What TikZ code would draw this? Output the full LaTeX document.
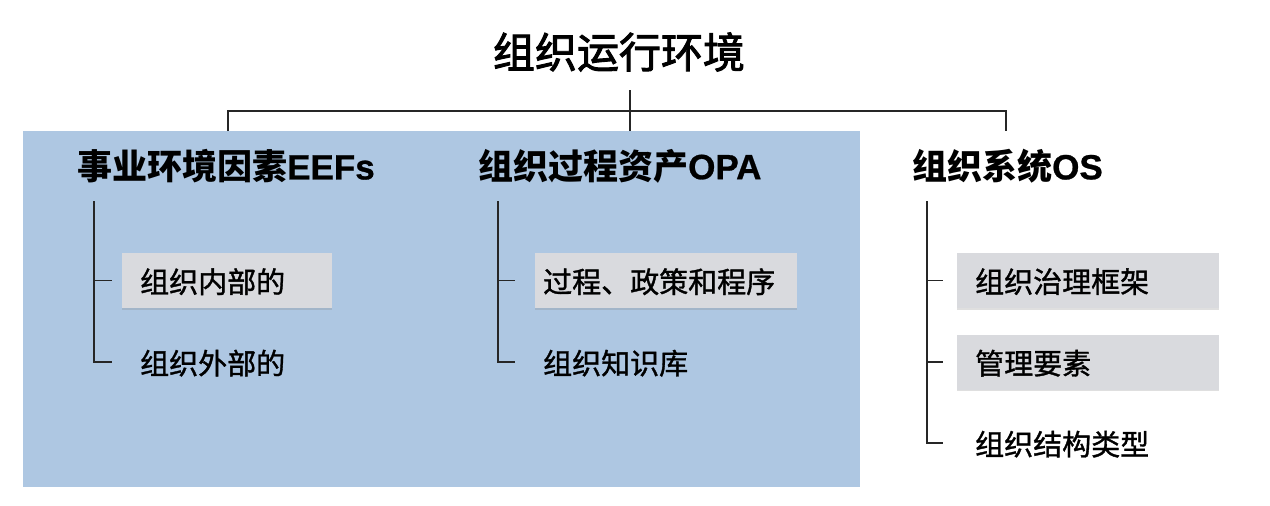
\documentclass[tikz,border=0pt]{standalone}
\usepackage{fontspec}
\setmainfont{Noto Sans CJK SC}
\newfontfamily\itemfont[FakeBold=1.2]{Noto Sans CJK SC}
\newfontfamily\titlefont[FakeBold=2.2]{Noto Sans CJK SC}
\newfontfamily\latinfont[UprightFont={* Bold},FakeBold=0.8]{Liberation Sans}
\usetikzlibrary{positioning,calc,shadows}
\definecolor{EnvClr}{RGB}{174,199,226}
\definecolor{ItemClr}{RGB}{217,218,222}
\newcommand{\TreeLines}[1]{\draw[line width=1.3pt,black!85] #1;}
\newcommand{\Abbr}[1]{{\latinfont #1}}

\begin{document}
\begin{tikzpicture}[x=1pt,y=-1pt,
  title/.style={font=\fontsize{42}{44}\titlefont,inner sep=0pt},
  hdr/.style={font=\fontsize{35}{37}\selectfont\bfseries,anchor=west,inner sep=0pt},
  item/.style={font=\fontsize{29}{31}\itemfont,anchor=west,inner ysep=0pt,
    minimum height=55pt,inner xsep=#1,text depth=0pt},
  item/.default=18pt,
  itembox/.style={item=#1,fill=ItemClr,
    drop shadow={shadow xshift=0pt,shadow yshift=-1.5pt,opacity=.25}},
  itembox/.default=18pt]
\useasboundingbox (0,0) rectangle (1270,506);
% operating environment frame
\fill[EnvClr] (23,131) rectangle (860,487);
\node[title] (env) at (619,52) {组织运行环境};
\node[hdr] (eef) at (77,166) {事业环境因素\Abbr{EEFs}};
\node[hdr] (opa) at (478,166) {组织过程资产\Abbr{OPA}};
\node[hdr] (os) at (912,166) {组织系统\Abbr{OS}};
% items
\node[itembox,text width=174pt] (eefin) at (122,280.5) {组织内部的};
\node[item,text width=174pt] (eefout) at (122,362) {组织外部的};
\node[itembox=8pt,text width=246pt] (opaproc) at (535,280.5) {过程、政策和程序};
\node[item=8pt,text width=246pt] (opakb) at (535,362) {组织知识库};
\node[itembox,text width=226pt] (osgov) at (957,280.5) {组织治理框架};
\node[itembox,text width=226pt] (osmgmt) at (957,362) {管理要素};
\node[item,text width=226pt] (osstruct) at (957,443) {组织结构类型};
% tree connectors
\coordinate (top) at (630,111);
\coordinate (dl) at (228,131);
\coordinate (dm) at (630,131);
\coordinate (dr) at (1006,131);
\TreeLines{(dm |- 0,90) -- (dm) (dl) |- (top) -| (dr)}
\coordinate (eefv) at (94,201);
\coordinate (opav) at (498,201);
\coordinate (osv) at (927,201);
\TreeLines{(eefv) |- ($(eefout.west)+(-10,0)$) (eefv |- eefin) -- ($(eefin.west)+(-10,0)$)}
\TreeLines{(opav) |- ($(opakb.west)+(-20,0)$) (opav |- opaproc) -- ($(opaproc.west)+(-20,0)$)}
\TreeLines{(osv) |- ($(osstruct.west)+(-14,0)$) (osv |- osgov) -- ($(osgov.west)+(-14,0)$)
  (osv |- osmgmt) -- ($(osmgmt.west)+(-14,0)$)}
\end{tikzpicture}
\end{document}
